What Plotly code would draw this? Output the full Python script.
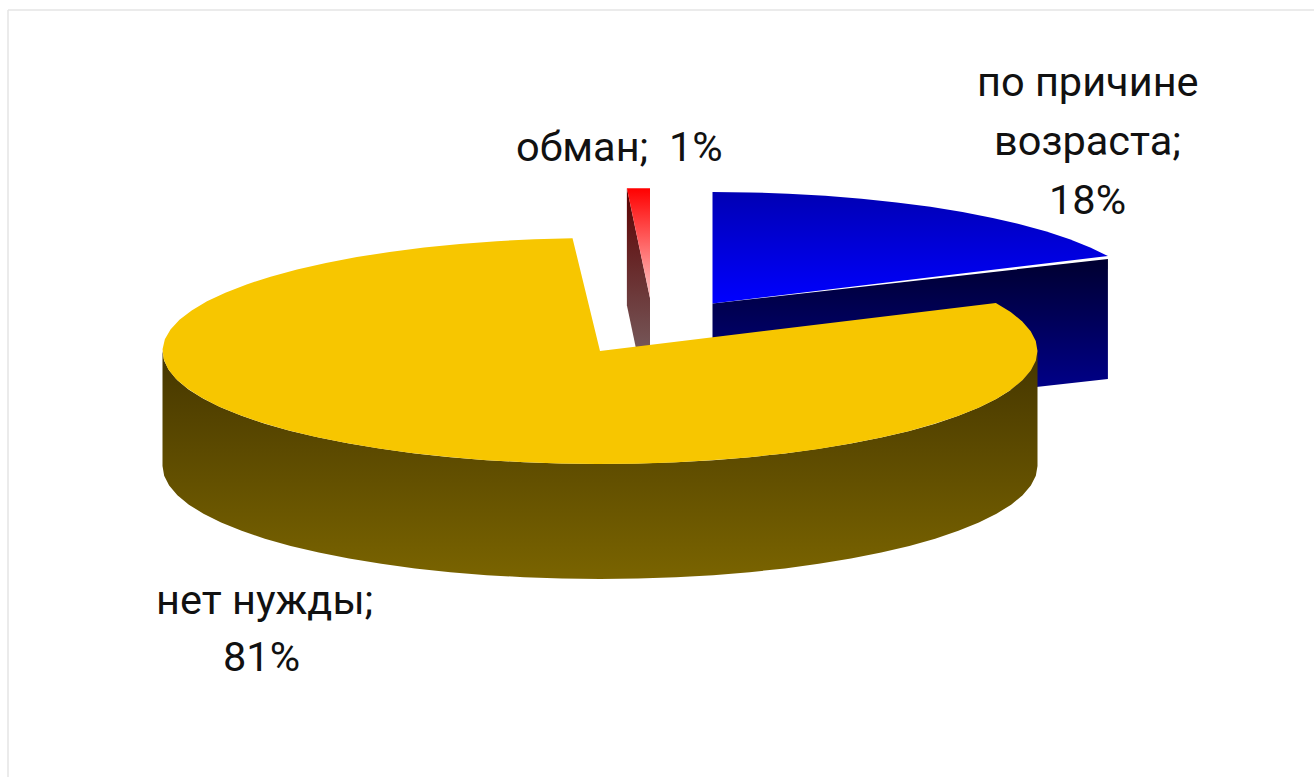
import numpy as np
import plotly.graph_objects as go

categories = ["по причине возраста", "нет нужды", "обман"]
values = [18, 81, 1]
label_lines = [["по причине", "возраста;", "18%"], ["нет нужды;", "81%"], ["обман;  1%"]]

W, H = 1314, 777
# geometry of the tilted pie, in picture pixels
geo = [
    dict(cx=712.5, cy=303.5, rx=437, ry=111.5),
    dict(cx=600, cy=351, rx=437.5, ry=113),
    dict(cx=650, cy=298, rx=368, ry=110),
]
DEPTH = 115
STEP = 5.0

def angles(a0, a1):
    n = max(1, int(round((a1 - a0) / STEP)))
    return np.linspace(a0, a1, n + 1)

def rim(g, a0, a1, dy=0):
    t = np.radians(angles(a0, a1))
    return g["cx"] + g["rx"] * np.sin(t), g["cy"] - g["ry"] * np.cos(t) + dy

share = np.array(values) / sum(values) * 360
a_blue = (0.0, share[0])
a_yellow = (share[0], share[0] + share[1])
a_red = (a_yellow[1], 360.0)

fig = go.Figure()

def poly(x, y, c0, c1=None):
    kw = dict(x=list(x), y=list(y), mode="lines", fill="toself", line=dict(width=0), hoverinfo="skip", showlegend=False)
    if c1 is None:
        kw["fillcolor"] = c0
    else:
        kw["fillgradient"] = dict(type="vertical", colorscale=[[0, c0], [1, c1]], start=min(y), stop=max(y))
    fig.add_trace(go.Scatter(**kw))

# blue slice: cut face, then top
g = geo[0]
ex, ey = rim(g, a_blue[1], a_blue[1])
ex, ey = ex[0], ey[0]
poly([g["cx"], ex, ex, g["cx"]], [g["cy"], ey + 3, ey + 3 + 120, g["cy"] + 120], "#000030", "#0000a0")
x, y = rim(g, *a_blue)
poly(np.r_[g["cx"], x], np.r_[g["cy"], y], "#0000b4", "#0000ff")

# red slice
g = geo[2]
x, y = rim(g, *a_red)
lx, ly = x[0], y[0]
poly([lx, g["cx"], g["cx"], lx], [ly, g["cy"], g["cy"] + 117, ly + 117], "#5c0000", "#7f7a7c")
poly([lx, g["cx"], g["cx"]], [ly, ly, g["cy"]], "#ff0000", "#ffc8c8")

# yellow slice: outer wall, then top
g = geo[1]
xt, yt = rim(g, 90, 270)
poly(np.r_[xt, xt[::-1]], np.r_[yt, (yt + DEPTH)[::-1]], "#453600", "#7a6400")
x, y = rim(g, *a_yellow)
poly(np.r_[g["cx"], x], np.r_[g["cy"], y], "#f7c600")

anchors = [([1087.5, 1087.5, 1087], [81, 140, 199]), ([264, 261], [599, 656]), ([619.5], [146])]
annotations = []
for lines, (axs, ays) in zip(label_lines, anchors):
    for line, ax, ay in zip(lines, axs, ays):
        annotations.append(dict(x=ax, y=ay, text=line, showarrow=False, xanchor="center", yanchor="middle",
                                font=dict(family="Roboto", size=41.5, color="#111111")))

fig.update_layout(
    width=W, height=H, autosize=False,
    margin=dict(l=0, r=0, t=0, b=0),
    paper_bgcolor="white", plot_bgcolor="white",
    xaxis=dict(range=[0, W], visible=False, fixedrange=True),
    yaxis=dict(range=[H, 0], visible=False, fixedrange=True),
    annotations=annotations,
    shapes=[
        dict(type="line", xref="paper", yref="paper", x0=8 / W, x1=1, y0=1 - 10 / H, y1=1 - 10 / H, line=dict(color="#e4e4e4", width=1.5)),
        dict(type="line", xref="paper", yref="paper", x0=8 / W, x1=8 / W, y0=0, y1=1 - 10 / H, line=dict(color="#e4e4e4", width=1.5)),
    ],
)
fig.write_html("out.html", config=dict(displayModeBar=False),
               post_script="document.body.style.margin='0';document.documentElement.style.overflow='hidden';")
